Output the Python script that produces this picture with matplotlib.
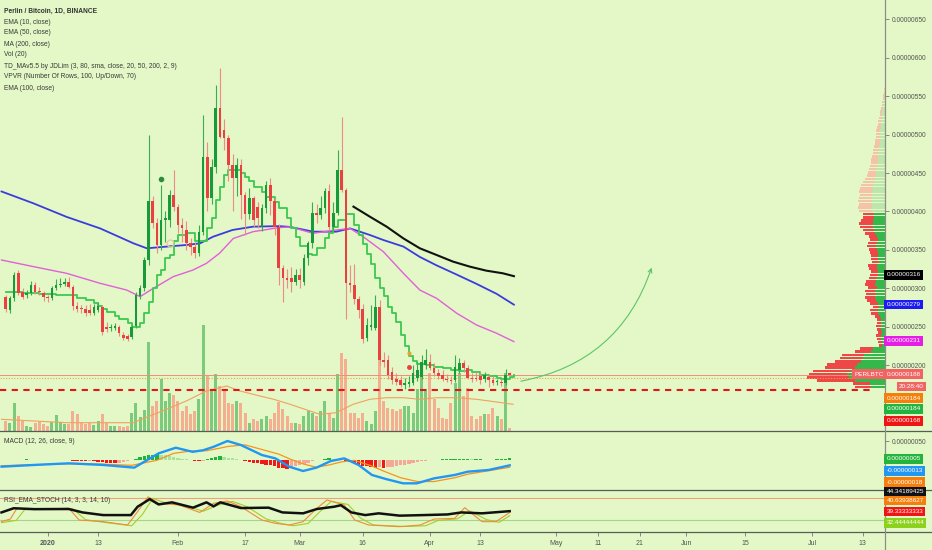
import numpy as np
import matplotlib
matplotlib.use("Agg")
import matplotlib.pyplot as plt
from matplotlib.lines import Line2D
from matplotlib.patches import FancyArrowPatch

plt.rcParams["font.family"] = ["Liberation Sans", "DejaVu Sans"]

# ----------------------------------------------------------------- data
# prices in satoshi (1e-8 BTC); x = days since 2020-01-01, one bar per day
days = list(range(-10, 111))
opens = [289, 272, 287, 320, 296, 291, 294, 305, 296, 294,
         289, 287, 300, 305, 306, 309, 302, 277, 274, 274,
         272, 268, 272, 276, 250, 249, 249, 250, 240, 238,
         237, 251, 290, 300, 337, 414, 385, 356, 389, 389,
         421, 406, 382, 376, 359, 354, 346, 374, 471, 417,
         458, 534, 506, 495, 460, 443, 460, 421, 397, 417,
         406, 380, 404, 434, 413, 380, 326, 313, 313, 309,
         318, 309, 339, 359, 398, 396, 404, 426, 380, 398,
         454, 428, 307, 305, 286, 274, 236, 250, 249, 276,
         207, 207, 192, 183, 181, 175, 176, 177, 184, 185,
         201, 205, 197, 190, 188, 183, 181, 181, 194, 203,
         197, 184, 184, 186, 183, 185, 181, 178, 179, 177, 190]
highs = [292, 290, 322, 324, 300, 298, 310, 308, 302, 297,
         292, 303, 312, 313, 314, 315, 305, 282, 279, 278,
         280, 280, 282, 279, 256, 254, 255, 252, 244, 241,
         253, 296, 304, 341, 500, 420, 392, 434, 400, 428,
         454, 410, 392, 388, 366, 360, 382, 525, 490, 468,
         564, 586, 520, 500, 475, 470, 468, 425, 430, 420,
         412, 410, 440, 444, 418, 384, 330, 325, 328, 325,
         326, 345, 362, 412, 410, 420, 430, 436, 412, 480,
         523, 430, 330, 332, 290, 280, 262, 278, 292, 285,
         218, 214, 198, 190, 186, 184, 186, 200, 205, 214,
         222, 215, 203, 196, 194, 189, 186, 214, 210, 207,
         201, 190, 191, 192, 192, 189, 186, 183, 182, 196, 192]
lows = [270, 268, 284, 292, 286, 287, 292, 293, 292, 284,
        282, 285, 298, 302, 303, 300, 272, 270, 268, 264,
        265, 266, 270, 240, 244, 245, 246, 238, 233, 232,
        234, 249, 286, 297, 330, 378, 346, 350, 360, 380,
        400, 372, 360, 350, 343, 340, 342, 370, 400, 410,
        450, 495, 480, 440, 400, 420, 390, 370, 390, 380,
        378, 375, 398, 395, 370, 305, 283, 300, 296, 305,
        300, 305, 330, 352, 385, 390, 398, 375, 376, 395,
        425, 260, 295, 280, 262, 229, 232, 246, 246, 200,
        198, 182, 176, 174, 172, 170, 172, 175, 180, 182,
        196, 194, 186, 183, 180, 178, 176, 179, 190, 192,
        182, 178, 180, 176, 179, 172, 175, 174, 173, 175, 187]
closes = [274, 287, 317, 294, 289, 294, 305, 296, 295, 289,
          287, 300, 305, 306, 309, 302, 277, 274, 273, 268,
          268, 276, 277, 244, 248, 250, 251, 242, 236, 235,
          250, 292, 300, 337, 414, 385, 356, 389, 391, 421,
          406, 382, 378, 359, 354, 346, 374, 471, 417, 458,
          534, 497, 495, 460, 443, 460, 421, 397, 417, 389,
          391, 404, 434, 413, 380, 326, 313, 311, 309, 318,
          311, 339, 359, 398, 396, 404, 426, 380, 398, 454,
          428, 307, 305, 286, 272, 235, 252, 253, 276, 207,
          205, 188, 181, 179, 175, 177, 178, 190, 194, 205,
          207, 197, 190, 186, 183, 181, 180, 198, 203, 197,
          184, 183, 183, 181, 187, 181, 177, 179, 177, 188, 188]
volume = [10, 8, 28, 15, 10, 5, 4, 8, 9, 7,
          5, 9, 16, 9, 7, 7, 20, 17, 9, 7,
          8, 6, 10, 17, 8, 5, 5, 5, 4, 5,
          18, 28, 14, 21, 89, 25, 30, 52, 30, 38,
          36, 30, 20, 25, 17, 20, 32, 106, 55, 40,
          57, 45, 40, 28, 27, 30, 28, 18, 8, 12,
          10, 12, 15, 12, 18, 29, 22, 15, 8, 8,
          7, 15, 20, 18, 15, 20, 30, 18, 13, 57,
          78, 72, 18, 18, 13, 18, 10, 7, 20, 78,
          30, 23, 22, 20, 22, 25, 25, 18, 42, 67,
          42, 58, 32, 23, 13, 12, 28, 48, 58, 35,
          43, 15, 12, 15, 17, 17, 23, 15, 12, 58, 3]
vol_ma_days = [-11, 4.5, 20.4, 24.3, 28.3, 33, 37.8, 42.6, 45.8, 50.5, 54, 57.7,
               64.8, 68.7, 72.7, 76.7, 80.7, 84.7, 88.6, 92.6, 97.4, 102.1, 106.9, 110.8]
vol_ma_vals = [11.7, 8.3, 8.3, 15, 21.7, 30, 40, 45, 40, 35, 31.5, 26.7,
               16.7, 18.3, 26.7, 31.7, 33.3, 33.3, 31.7, 33.3, 33.3, 31.7, 29, 26.7]

ma200_days = [-11, -3.4, 4.5, 12.5, 20.4, 23.6, 28.3, 33, 36.3, 39.4, 44, 48.9, 55,
              57.7, 63.2, 68.7, 72, 76.7, 79.9, 84.7, 88.6, 92.6, 97.4, 102.1, 106.9, 111]
ma200_vals = [426, 410.6, 393, 378, 358.7, 352.2, 354.4, 356.5, 358.7, 367.3, 376, 380.3, 381,
              380, 373.8, 373.8, 378, 369.5, 363, 354.4, 341, 330, 318, 306, 293, 279]
ema50_days = [-11, -3.4, 4.5, 12.5, 18.8, 22, 25.1, 29.9, 34.6, 37.8, 40.9, 44.2, 48.9, 55,
              57.7, 63.2, 68.7, 72, 75.1, 79.9, 84.7, 88.6, 92.6, 97.4, 102.1, 106.9, 111]
ema50_vals = [337, 328.4, 319.7, 306.7, 298, 289.4, 300, 315.4, 324, 332.7, 345.7, 365, 373.8, 379,
              380, 371.7, 376, 378, 367.3, 347.9, 319.7, 298, 287.2, 267.8, 252.6, 241.8, 231]
ema100_days = [72.8, 76.7, 80.7, 84.7, 88.6, 92.6, 96.5, 100.5, 104.4, 108.4, 111]
ema100_vals = [406.3, 393.3, 380.3, 365, 352.2, 343.5, 334.9, 328.4, 323.2, 319.7, 316]
td_days = [-10, -6, -2, 2, 5, 7, 9, 11, 12, 13, 14, 16, 17, 19, 20, 22, 23, 24, 25, 26,
           27, 28, 29, 30, 31, 33, 35, 37, 38, 39, 40, 41, 42, 43, 46, 47, 48, 49, 51, 52,
           54, 55, 57, 58, 59, 60, 62, 63, 64, 66, 67, 68, 69, 71, 73, 74, 75, 76, 77, 78,
           79, 80, 81, 82, 83, 84, 85, 86, 87, 88, 90, 92, 94, 96, 98, 100, 101, 103, 105,
           107, 108, 110, 111]
td_vals = [296, 294, 293, 292, 291, 288, 285, 281, 277, 273, 269, 264, 260, 255, 250, 255, 268, 282, 300, 318,
           324, 340, 344, 362, 370, 372, 362, 362, 378, 392, 415, 432, 448, 454, 450, 445, 440, 432, 425, 419,
           412, 405, 392, 378, 367, 355, 345, 343, 352, 365, 372, 380, 389, 397, 382, 370, 358, 345, 332, 314,
           300, 290, 276, 268, 256, 240, 225, 212, 206, 202, 200, 198, 197, 194, 193, 194, 192, 188, 186,
           184, 183, 185, 188]

last_price = 188
ema10_last = 184
td_last = 184
support = 168

# volume profile (visible range), 100 rows, bottom -> top
vp_low, vp_high = 170, 586
vp_up = [14, 15, 30, 36, 38, 34, 30, 28, 24, 22, 21, 14, 12,
         3, 3, 4, 4, 3, 4, 4, 4,
         4, 5, 7, 7, 6, 7,
         9, 10, 9, 10, 8, 10, 9, 8,
         7, 7, 8, 8, 6, 7,
         7, 7, 8, 9, 8, 7, 8,
         10, 11, 12, 12, 12, 11, 11,
         13, 13, 13, 14, 13, 12, 13, 12, 12, 11, 10, 9,
         9, 8, 8, 7, 7, 7, 6, 6, 6, 5, 5, 5, 5,
         5, 4, 4, 4, 3, 3, 3, 2, 2, 2,
         1, 1, 0.5, 0.5, 0.3, 0.3, 0.3, 0.3, 0.3, 0.3]
vp_down = [16, 17, 38, 42, 38, 38, 30, 30, 26, 23, 22, 16, 13,
           3, 4, 4, 5, 4, 4, 5, 4,
           4, 5, 7, 8, 6, 8,
           9, 10, 10, 10, 9, 10, 10, 8,
           8, 7, 8, 9, 7, 7,
           7, 8, 8, 9, 9, 8, 8,
           10, 11, 13, 14, 12, 11, 11,
           13, 14, 13, 13, 13, 13, 13, 13, 12, 11, 10, 9,
           8, 8, 7, 7, 7, 6, 6, 6, 5, 5, 5, 4, 4,
           4, 4, 3, 3, 3, 2, 2, 2, 1, 1,
           1, 1, 0.5, 0.5, 0.2, 0.2, 0.2, 0.2, 0.2, 0.2]
value_area_high = 400

# MACD (12, 26, 9) in satoshi
macd_hist = [1, 1, 1.5, 2, 2, 2.5, 2,
             1.5, 1, 1, 0.5, 0.5, 1, 1, 0.5, 0,
             -1, -2, -2, -3, -2.5, -3, -4, -5, -6, -7, -7, -6, -5,
             -2, 1, 4,
             8, 11, 13, 15, 16, 15, 13, 10,
             8, 6, 4, 3, 1,
             -2, -3, -1,
             3, 5, 8, 10, 9,
             7, 5, 3, 1,
             -3, -5, -6, -7, -9, -11, -13, -16, -19, -21, -22, -20,
             -16, -12, -9, -6, -3,
             0.5, 2, 4, 5, 4, 3, 1,
             -2, -5, -8, -12, -15, -16, -18, -19, -18, -19, -18, -17,
             -15, -13, -11, -9, -7, -5, -3, -1,
             1, 2, 2, 3, 3, 3, 4, 4, 4, 4, 3, 3, 3, 2, 2, 2, 3, 3, 4, 5]
macd_days = [-11, -3.2, 5, 13.2, 20.6, 23, 26.4, 30.5, 34.5, 37, 39.5, 42.8, 46, 51, 54.2,
             57.5, 60.8, 64, 67.4, 70.6, 74, 77.2, 80.5, 84.6, 87.9, 92, 96.9, 100, 105, 110]
macd_vals = [-16.5, -12, -7.8, -12, -19, -3.7, 18, 32.6, 22, 26, 35, 50, 39.6, 13.7, 5,
             -16.5, -27.7, -19, -1.8, 5, -12, -38, -48.4, -59.6, -59.6, -46.7, -38, -29.5, -25, -13]
signal_days = [-11, 5, 13, 20, 26, 30, 34, 38, 43, 47, 51, 55, 58, 61, 64, 67, 70, 73,
               77, 80, 84, 88, 92, 97, 100, 105, 110]
signal_vals = [-14, -9, -10, -13, 0, 18, 24, 25, 36, 40, 28, 16, 2, -10, -18, -12, -4, 0,
               -14, -28, -45, -55, -55, -45, -36, -27, -18]

# RSI_EMA_STOCH
rsi_days = [-11, -8.1, -3.2, 5, 8.3, 13.2, 19.8, 21.4, 24.3, 26.4, 29.6, 34.6, 37.8, 39.5, 41.1,
            46, 52.6, 55.9, 60.8, 64.1, 68.2, 69.8, 72.3, 75.6, 78.8, 83.8, 89.5, 95.2, 98.5,
            103.4, 110]
rsi_vals = [41, 52, 49.6, 50, 41, 34, 34, 56, 76, 62, 67.5, 53.5, 67.5, 57, 67.5,
            52.5, 53.5, 41, 38.6, 50, 56, 60, 41, 34, 38.6, 32.5, 34, 35.7, 41,
            38.6, 44.34189425]
k_days = [-11, -8.9, -7.3, -3.2, 5, 7.5, 13.2, 19, 21.4, 23.9, 26.4, 31.3, 36.2, 39.5, 42.8,
          46, 51, 54.2, 57.5, 60.8, 64.1, 66.5, 70.6, 73.1, 76.4, 83.8, 88.7, 92, 96.9, 99.3,
          103.4, 106.7, 110]
k_vals = [16.7, 23.6, 52, 49, 52, 21, 16.7, 7.9, 43, 82, 64.9, 60.5, 41, 65, 71,
          56, 21, 12.3, 7.9, 16.7, 52, 73.7, 60.5, 21, 7.9, 3.5, 7.9, 23.6, 25.4, 53.5,
          16.7, 16.7, 40.63938627]
d_days = [-11, -7.5, -5.5, -2, 6, 9, 14, 20, 22.5, 25, 27.5, 32, 37, 40.5, 44, 47.5, 52,
          55.5, 58.5, 62, 65, 67.5, 71.5, 74.5, 77.5, 85, 90, 93, 97.5, 100.5, 104.5, 107.5, 110]
d_vals = [14, 20, 48, 50, 50, 22, 14, 6, 35, 78, 68, 62, 44, 60, 70, 56, 24,
          12, 6, 12, 45, 70, 62, 26, 8, 4, 6, 20, 24, 45, 22, 15, 32.44444444]
rsi_red_last = 39.33333333

tick_days = [0, 12, 31, 47, 60, 75, 91, 103, 121, 131, 141, 152, 166, 182, 194]
tick_text = ["2020", "13", "Feb", "17", "Mar", "16", "Apr", "13",
             "May", "11", "21", "Jun", "15", "Jul", "13"]

legend_lines = ["EMA (10, close)", "EMA (50, close)", "MA (200, close)", "Vol (20)",
                "TD_MAv5.5 by JDLim (3, 80, sma, close, 20, 50, 200, 2, 9)",
                "VPVR (Number Of Rows, 100, Up/Down, 70)", "EMA (100, close)"]

# ----------------------------------------------------------------- style
BG = "#E3F8C6"
TXT = "#3A3A3A"
UP, DN = "#179B3A", "#E8413F"
WICK_UP, WICK_DN = "#3DAA55", "#F08A8A"
VOL_UP, VOL_DN = "#7CCB7C", "#F3AF90"
FS = 4.8          # chart text size
W, H = 932, 550
AX_R = 885
X0, PXD = 47.7, 4.2
XL = (-X0 / PXD, (AX_R - X0) / PXD)


def fy(y):
    return 1 - y / H


def axes_px(top, bottom):
    a = fig.add_axes([0, 1 - bottom / H, AX_R / W, (bottom - top) / H])
    a.set_facecolor("none")
    a.set_xlim(*XL)
    return a


def sats(v):
    return f"{v * 1e-8:.8f}"


def tag(y, text, fc, tc="white", x=886.5, ha="left"):
    fig.text(x / W, fy(y), text, fontsize=4.6, color=tc, ha=ha, va="center",
             bbox=dict(boxstyle="square,pad=0.33", fc=fc, ec="none"), zorder=10)


fig = plt.figure(figsize=(W / 100, H / 100), dpi=100, facecolor=BG)

d = np.array(days)
o, hi, lo, c = (np.array(v, dtype=float) for v in (opens, highs, lows, closes))
up = c >= o

# ----------------------------------------------------------------- volume
vax = axes_px(0, 431)
vax.set_ylim(0, 431)
vax.bar(d, volume, width=0.72, color=np.where(up, VOL_UP, VOL_DN), zorder=1)
vax.plot(vol_ma_days, vol_ma_vals, color="#F2A060", lw=0.8, zorder=2)
vax.axis("off")

# ----------------------------------------------------------------- price
PY = (114.9, 674.7)
vpax = fig.add_axes([0, 1 - 431 / H, AX_R / W, 431 / H])
vpax.set_facecolor("none")
vpax.set_xlim(AX_R, 0)
vpax.set_ylim(*PY)
row_h = (vp_high - vp_low) / len(vp_up)
rows = vp_low + row_h * (np.arange(len(vp_up)) + 0.5)
in_va = rows < value_area_high
vpax.barh(rows, vp_up, left=0, height=row_h * 0.8,
          color=np.where(in_va, "#34B84A", "#BDE6AB"), zorder=1)
vpax.barh(rows, vp_down, left=vp_up, height=row_h * 0.8,
          color=np.where(in_va, "#EE4747", "#F5C3A5"), zorder=1)
vpax.axis("off")

ax = axes_px(0, 431)
ax.set_ylim(*PY)
ax.plot(ma200_days, ma200_vals, color="#3C3CDC", lw=1.3, zorder=2)
ax.plot(ema50_days, ema50_vals, color="#E060D8", lw=1.0, zorder=2)
ax.plot(ema100_days, ema100_vals, color="#111111", lw=1.5, zorder=2)
ax.plot(td_days, td_vals, color="#3CC850", lw=1.3, drawstyle="steps-post", zorder=3)

ax.vlines(d[up], lo[up], hi[up], color=WICK_UP, lw=0.8, zorder=4)
ax.vlines(d[~up], lo[~up], hi[~up], color=WICK_DN, lw=0.8, zorder=4)
ax.bar(d, np.maximum(np.abs(c - o), 1.2), bottom=np.minimum(o, c), width=0.64,
       color=np.where(up, UP, DN), zorder=5)

ax.axhline(last_price, color="#F08C7C", lw=0.7, zorder=1)
ax.axhline(ema10_last, color="#F0A040", lw=0.8, ls=(0, (1, 1.5)), zorder=1)
ax.hlines(support, XL[0], (875 - X0) / PXD, color="#E5161A", lw=1.5,
          ls=(0, (3, 2.6)), zorder=6)

# markers from the TD study
ax.plot([27], [442], "o", ms=3, color="#2E8B3A", zorder=6)
ax.plot([29], [359], "o", ms=5, mfc="none", mec="#E8C89A", mew=0.9, zorder=6)
ax.plot([86], [198], "o", ms=2.5, color="#E44444", zorder=6)
ax.plot([86], [216], "o", ms=2, color="#F0A030", zorder=6)

arrow = FancyArrowPatch((112, 179), (144, 330.5), connectionstyle="arc3,rad=0.3",
                        arrowstyle="->", mutation_scale=7, color="#5DC46A", lw=0.8,
                        zorder=6)
ax.add_patch(arrow)

ax.yaxis.tick_right()
ax.set_yticks(range(200, 651, 50))
ax.set_yticklabels([sats(v) for v in range(200, 651, 50)])
ax.tick_params(axis="y", length=3, width=0.7, color="#888888", labelsize=FS,
               labelcolor="#555555", pad=2)
ax.set_xticks([])
for s in ("top", "left", "bottom", "right"):
    ax.spines[s].set_visible(False)

# ----------------------------------------------------------------- MACD
mx = axes_px(431, 489.5)
mx.set_ylim(-75.6, 75.9)
hcol = []
for i, v in enumerate(macd_hist):
    prev = macd_hist[i - 1] if i else v
    if v >= 0:
        hcol.append("#1EB33B" if v >= prev else "#A8E2A0")
    else:
        hcol.append("#F01818" if v <= prev else "#F6A898")
mx.bar(d, macd_hist, width=0.8, color=hcol, zorder=1)
mx.plot(signal_days, signal_vals, color="#F7931E", lw=0.9, zorder=2)
mx.plot(macd_days, macd_vals, color="#2196F3", lw=1.7, zorder=3)
mx.yaxis.tick_right()
mx.set_yticks([50])
mx.set_yticklabels([sats(50)])
mx.tick_params(axis="y", length=3, width=0.7, color="#888888", labelsize=FS,
               labelcolor="#555555", pad=2)
mx.set_xticks([])
for s in mx.spines.values():
    s.set_visible(False)

# ----------------------------------------------------------------- RSI
rx = axes_px(489.5, 532)
rx.set_ylim(-10.5, 101.3)
rx.axhline(80, color="#F2A07A", lw=0.8)
rx.axhline(20, color="#A2D68C", lw=0.8)
rx.plot(d_days, d_vals, color="#A8CC2E", lw=0.8, zorder=2)
rx.plot(k_days, k_vals, color="#F08A3C", lw=0.8, zorder=2)
rx.plot(rsi_days, rsi_vals, color="#111111", lw=1.8, zorder=3)
rx.set_yticks([])
rx.set_xticks(tick_days)
rx.set_xticklabels(tick_text)
rx.tick_params(axis="x", length=3, width=0.7, color="#888888", labelsize=5.0,
               labelcolor="#555555", pad=2.5)
rx.get_xticklabels()[0].set_fontweight("bold")
for s in rx.spines.values():
    s.set_visible(False)

# ----------------------------------------------------------------- frame
for y in (431, 489.5, 532):
    fig.add_artist(Line2D([0, 1], [fy(y), fy(y)], transform=fig.transFigure,
                          color="#5A5A5A", lw=0.9, zorder=8))
fig.add_artist(Line2D([AX_R / W, AX_R / W], [0, 1], transform=fig.transFigure,
                      color="#8C8C8C", lw=0.9, zorder=8))

# ----------------------------------------------------------------- texts
fig.text(4 / W, fy(11), "Perlin / Bitcoin, 1D, BINANCE", fontsize=FS,
         weight="bold", color="#333333", va="center")
for i, line in enumerate(legend_lines):
    fig.text(4 / W, fy(22 + 11 * i), line, fontsize=FS, color=TXT, va="center")
fig.text(4 / W, fy(441.5), "MACD (12, 26, close, 9)", fontsize=FS, color=TXT, va="center")
fig.text(4 / W, fy(500.5), "RSI_EMA_STOCH (14, 3, 3, 14, 10)", fontsize=FS,
         color=TXT, va="center")

tag(275, sats(ema100_vals[-1]), "#000000")
tag(304.5, sats(ma200_vals[-1]), "#1B1BF2")
tag(341, sats(ema50_vals[-1]), "#E51EE5")
tag(374, sats(last_price), "#F26464")
tag(374, "PERLBTC", "#F26464", x=883.5, ha="right")
tag(386.5, "20:28:40", "#F26464", x=924, ha="right")
tag(398, sats(ema10_last), "#F57F0A")
tag(409, sats(td_last), "#23B33F")
tag(421, sats(support), "#F01414")

tag(459, sats(macd_hist[-1]), "#24B33C")
tag(471, sats(macd_vals[-1]), "#2196F3")
tag(482, sats(signal_vals[-1]), "#F57F0A")

tag(491.5, f"{rsi_vals[-1]:.8f}", "#111111")
tag(500.5, f"{k_vals[-1]:.8f}", "#F57F0A")
tag(511.5, f"{rsi_red_last:.8f}", "#F01414")
tag(523, f"{d_vals[-1]:.8f}", "#8CD11C")

fig.savefig("out.png", dpi=100, facecolor=BG)
